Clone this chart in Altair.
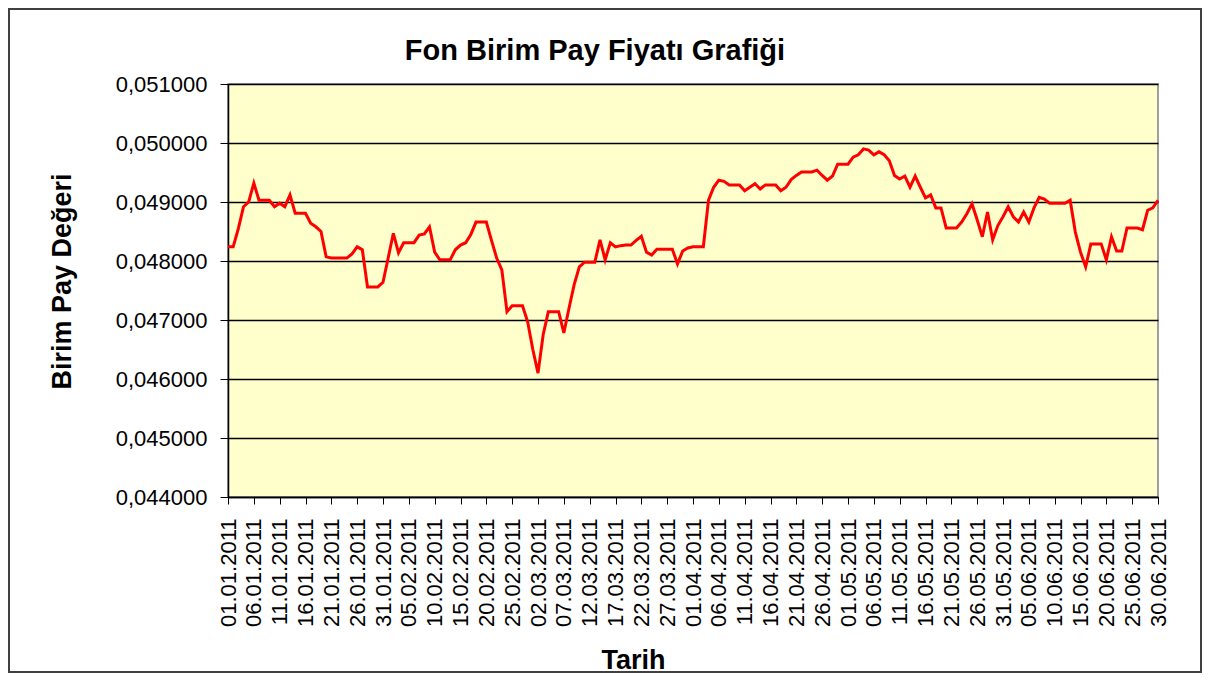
import altair as alt
import pandas as pd

# Dates (categories) 01.01.2011 .. 30.06.2011
tarih = [d.strftime("%d.%m.%Y") for d in pd.date_range("2011-01-01", "2011-06-30", freq="D")]
tick_labels = tarih[::5]

# Fund unit price values (one per day)
deger = [
    0.04824, 0.04824, 0.04855, 0.04892, 0.04900, 0.04932, 0.04903, 0.04903, 0.04903, 0.04892,
    0.04898, 0.04892, 0.04912, 0.04881, 0.04881, 0.04881, 0.04864, 0.04858, 0.04850, 0.04807,
    0.04805, 0.04805, 0.04805, 0.04805, 0.04812, 0.04824, 0.04819, 0.04756, 0.04756, 0.04756,
    0.04764, 0.04805, 0.04847, 0.04814, 0.04831, 0.04831, 0.04831, 0.04844, 0.04846, 0.04858,
    0.04815, 0.04802, 0.04802, 0.04802, 0.04819, 0.04827, 0.04831, 0.04845, 0.04866, 0.04866,
    0.04866, 0.04835, 0.04805, 0.04785, 0.04714, 0.04724, 0.04724, 0.04724, 0.04697, 0.04650,
    0.04610, 0.04675, 0.04714, 0.04714, 0.04714, 0.04678, 0.04720, 0.04760, 0.04790, 0.04798,
    0.04798, 0.04798, 0.04836, 0.04802, 0.04831, 0.04824, 0.04826, 0.04827, 0.04827, 0.04835,
    0.04842, 0.04815, 0.04810, 0.04820, 0.04820, 0.04820, 0.04820, 0.04795, 0.04817, 0.04822,
    0.04824, 0.04824, 0.04824, 0.04903, 0.04925, 0.04937, 0.04935, 0.04929, 0.04929, 0.04929,
    0.04919, 0.04925, 0.04931, 0.04922, 0.04929, 0.04929, 0.04929, 0.04919, 0.04925, 0.04938,
    0.04945, 0.04951, 0.04951, 0.04951, 0.04954, 0.04945, 0.04937, 0.04944, 0.04964, 0.04964,
    0.04964, 0.04976, 0.04980, 0.04990, 0.04988, 0.04980, 0.04985, 0.04980, 0.04970, 0.04945,
    0.04939, 0.04944, 0.04925, 0.04944, 0.04925, 0.04907, 0.04912, 0.04890, 0.04890, 0.04856,
    0.04856, 0.04856, 0.04866, 0.04880, 0.04897, 0.04870, 0.04841, 0.04883, 0.04836, 0.04860,
    0.04875, 0.04892, 0.04875, 0.04866, 0.04883, 0.04866, 0.04890, 0.04908, 0.04905, 0.04898,
    0.04898, 0.04898, 0.04898, 0.04903, 0.04849, 0.04815, 0.04790, 0.04829, 0.04829, 0.04829,
    0.04802, 0.04841, 0.04817, 0.04817, 0.04856, 0.04856, 0.04856, 0.04853, 0.04886, 0.04890,
    0.04903,
]

y_ticks = [0.044, 0.045, 0.046, 0.047, 0.048, 0.049, 0.050, 0.051]

df = pd.DataFrame({"tarih": tarih, "deger": deger})

W, H = 930, 413
FONT = "Liberation Sans"

line = alt.Chart(df).mark_line(color="#FF0000", strokeWidth=3).encode(
    x=alt.X(
        "tarih:O",
        sort=tarih,
        scale=alt.Scale(type="point", padding=0),
        axis=alt.Axis(
            values=tick_labels,
            labelAngle=-90,
            labelFont=FONT,
            labelFontSize=22,
            labelColor="#000000",
            labelPadding=14,
            tickSize=7,
            tickColor="#000000",
            domainColor="#000000",
            domainWidth=1.5,
            grid=False,
            title="Tarih",
            titleFont=FONT,
            titleFontSize=27,
            titleFontWeight="bold",
            titleX=405,
            titleY=163,
            titleBaseline="middle",
            titleAnchor="middle",
        ),
    ),
    y=alt.Y(
        "deger:Q",
        scale=alt.Scale(domain=[0.044, 0.051], nice=False, zero=False),
        axis=alt.Axis(
            values=y_ticks,
            labelExpr="replace(format(datum.value, '.6f'), '.', ',')",
            labelFont=FONT,
            labelFontSize=22,
            labelColor="#000000",
            labelPadding=13,
            tickSize=8,
            tickColor="#000000",
            domainColor="#000000",
            domainWidth=1.5,
            grid=True,
            gridColor="#000000",
            gridWidth=1.5,
            title="Birim Pay  Değeri",
            titleFont=FONT,
            titleFontSize=27,
            titleFontWeight="bold",
            titleX=-166,
            titleY=197,
            titleAngle=270,
            titleBaseline="middle",
            titleAnchor="middle",
        ),
    ),
)

frame = alt.Chart(pd.DataFrame({"a": [0]})).mark_rect(
    filled=False, stroke="#404040", strokeWidth=2
).encode(
    x=alt.value(-219), x2=alt.value(973), y=alt.value(-75), y2=alt.value(588)
)

chart = (
    alt.layer(line, frame)
    .properties(
        width=W,
        height=H,
        title=alt.TitleParams(
            "Fon Birim Pay Fiyatı Grafiği",
            font=FONT,
            fontSize=29,
            fontWeight="bold",
            anchor="middle",
            baseline="middle",
            dx=-98,
            offset=-72,
            color="#000000",
        ),
        padding={"left": 220, "top": 76, "right": 44, "bottom": 176},
        autosize=alt.AutoSizeParams(type="none"),
        background="#FFFFFF",
    )
    .configure_view(fill="#FFFFCC", stroke="#808080", strokeWidth=1.5)
)

chart.save("out.html", embed_options={"renderer": "svg", "actions": False})
